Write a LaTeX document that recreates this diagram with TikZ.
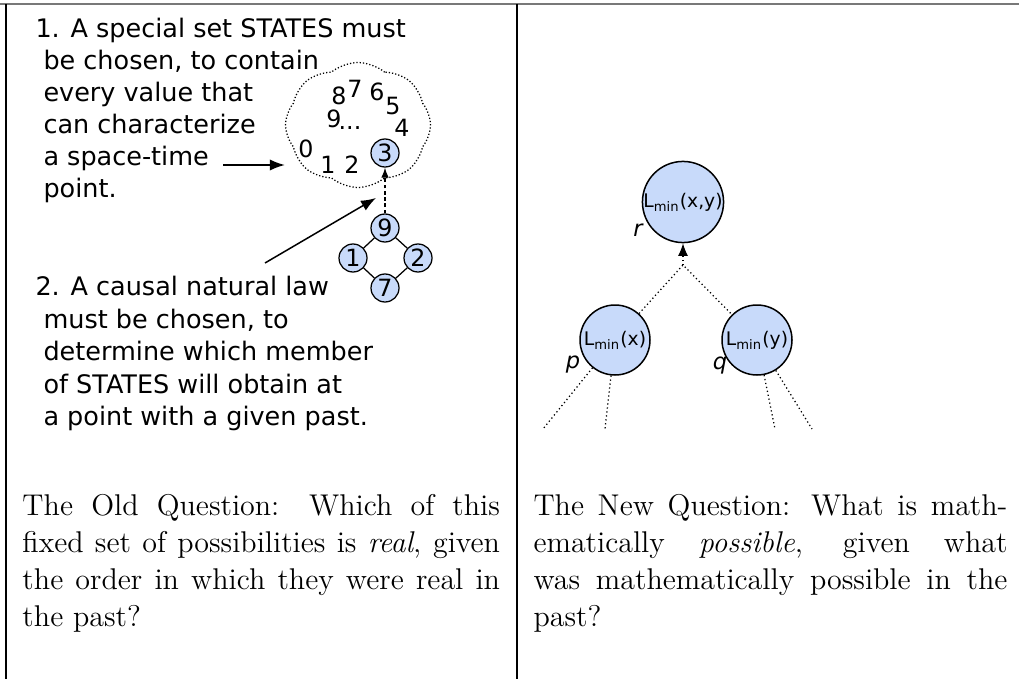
\documentclass[tikz,border=0pt]{standalone}
\usepackage{fontspec}
\newfontfamily\dejavu{DejaVu Sans}
\usetikzlibrary{arrows, arrows.meta, shapes.symbols}
\definecolor{stateblue}{RGB}{200,218,250}
\definecolor{rulegray}{RGB}{120,120,120}
\newcommand{\ind}{\hspace*{3.2pt}}
\tikzset{
  state/.style={circle, draw, line width=0.5pt, fill=stateblue, minimum size=11.2pt, inner sep=0pt, font=\dejavu\fontsize{9.5}{10}\selectfont},
  lmin/.style={circle, draw, line width=0.6pt, fill=stateblue, minimum size=28pt, inner sep=0pt, font=\dejavu\fontsize{7.5}{8}\selectfont},
  num/.style={inner sep=0pt, font=\dejavu\fontsize{9.5}{10}\selectfont},
  lbl/.style={inner sep=0pt, font=\dejavu\fontsize{9}{10}\selectfont\itshape},
  dots/.style={line width=0.5pt, dash pattern=on 0.5pt off 1.1pt},
}

\begin{document}
\begin{tikzpicture}[x=0.4pt, y=-0.4pt]
\useasboundingbox (0,0) rectangle (1019,679);

%table rules
\draw[rulegray, line width=0.6pt] (0,4) -- (1019,4);
\draw[line width=0.5pt] (6,4) -- (6,679);
\draw[line width=0.5pt] (517,4) -- (517,679);

%left column
\node[anchor=north west, inner sep=0pt, align=left, font=\dejavu\fontsize{10.2}{12.8}\selectfont] (choose1) at (35,18)
  {1. A special set STATES must\\ \ind be chosen, to contain\\ \ind every value that\\ \ind can characterize\\ \ind a space-time\\ \ind point.};
\node[anchor=north west, inner sep=0pt, align=left, font=\dejavu\fontsize{10.2}{12.95}\selectfont] (choose2) at (35,276)
  {2. A causal natural law\\ \ind must be chosen, to\\ \ind determine which member\\ \ind of STATES will obtain at\\ \ind a point with a given past.};

%states cloud
\node[cloud, cloud puffs=8, cloud puff arc=80, aspect=1.15, draw, dash pattern=on 0.5pt off 0.8pt, line width=0.5pt, minimum width=58pt, minimum height=50pt, inner sep=0pt] (states) at (358,125) {};
\node[num] (n0) at (306,149) {0};
\node[num] (n1) at (328,165) {1};
\node[num] (n2) at (352,165) {2};
\node[state] (s3) at (385,153) {3};
\node[num] (n4) at (402,128) {4};
\node[num] (n5) at (393,106) {5};
\node[num] (n6) at (377,92) {6};
\node[num] (n7) at (355,89) {7};
\node[num] (n8) at (339,96) {8};
\node[num] (n9) at (334,119) {9};
\node[num] (ndots) at (350,128) {...};

%law
\node[state] (s9) at (385,228) {9};
\node[state] (s1) at (353,258) {1};
\node[state] (s2) at (418,258) {2};
\node[state] (s7) at (385,288) {7};
\draw[line width=0.5pt] (s9) -- (s1) -- (s7) -- (s2) -- (s9);
\draw[line width=0.5pt, dash pattern=on 1.5pt off 1pt, -{Latex[length=4pt,width=3pt]}] (s9) -- (s3);

%pointers
\coordinate (tail1) at (223,165);
\coordinate (tail2) at (265,263);
\coordinate (head2) at (376,198);
\draw[line width=0.6pt, -{Latex[length=6pt,width=4.5pt]}] (tail1) -- (states.west |- tail1);
\draw[line width=0.6pt, -{Latex[length=6pt,width=4.5pt]}] (tail2) -- (head2);

%right column: tree
\node[lmin] (lr) at (683,202) {L\textsubscript{min}(x,y)};
\node[lmin] (lp) at (615,340) {L\textsubscript{min}(x)};
\node[lmin] (lq) at (757,340) {L\textsubscript{min}(y)};
\node[lbl] (r) at (638,230) {r};
\node[lbl] (p) at (573,365) {p};
\node[lbl] (q) at (720,366) {q};

\coordinate (join) at (683,265);
\coordinate (pa) at (543,429);
\coordinate (pb) at (605,429);
\coordinate (qa) at (775,429);
\coordinate (qb) at (812,429);
\draw[dots, -{Latex[length=5pt,width=4pt]}] (join) -- (lr);
\draw[dots] (lp) -- (join) -- (lq);
\draw[dots] (lp) -- (pa);
\draw[dots] (lp) -- (pb);
\draw[dots] (lq) -- (qa);
\draw[dots] (lq) -- (qb);

%questions
\node[anchor=north west, inner sep=0pt, text width=191pt, align=justify, font=\fontsize{12}{14.8}\selectfont] (oldq) at (22,494)
  {The Old Question: Which of this fixed set of possibilities is \emph{real}, given the order in which they were real in the past?};
\node[anchor=north west, inner sep=0pt, text width=189.6pt, align=justify, font=\fontsize{12}{14.8}\selectfont] (newq) at (533,494)
  {The New Question: What is math\-ematically \emph{possible}, given what\linebreak was mathematically possible in the\linebreak past?};

\end{tikzpicture}
\end{document}
